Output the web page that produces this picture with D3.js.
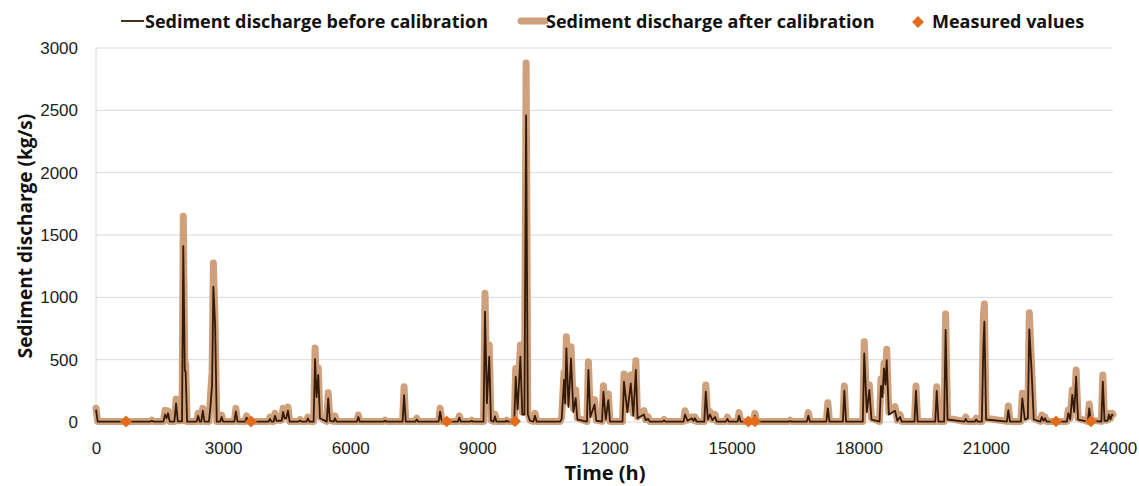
<!DOCTYPE html>
<html lang="en">
<head>
<meta charset="utf-8">
<script src="https://d3js.org/d3.v7.min.js"></script>
<style>
  body { margin: 0; background: #fff; }
  svg { font-family: "Open Sans", sans-serif; }
  .grid line { stroke: #d9d9d9; stroke-width: 1px; }
  .tick text { fill: #222; font-size: 17px; }
  .after { fill: none; stroke: #cfa07c; stroke-width: 7px; stroke-linejoin: round; stroke-linecap: round; }
  .before { fill: none; stroke: #351a07; stroke-width: 1.8px; stroke-linejoin: round; }
  .lbl { font-weight: bold; fill: #111; }
</style>
<title>Sediment discharge</title>
</head>
<body>
<div id="chart"></div>
<script>
// time (h)
var timeH = [0, 40, 1280, 1320, 1360, 1590, 1630, 1665, 1700, 1740, 1850, 1890, 1930, 2030, 2060, 2095, 2115, 2150,
  2375, 2410, 2450, 2485, 2520, 2560, 2665, 2700, 2740, 2770, 2810, 2850, 2930, 2965, 3000, 3265, 3300, 3340,
  3520, 3555, 3590, 4070, 4105, 4140, 4190, 4225, 4260, 4380, 4415, 4450, 4490, 4530, 4570, 4780, 4815, 4850,
  4965, 5000, 5035, 5135, 5170, 5205, 5245, 5285, 5445, 5480, 5520, 5605, 5640, 5675, 6155, 6190, 6225,
  6785, 6820, 6855, 7235, 7270, 7310, 7535, 7570, 7605, 8085, 8120, 8160, 8540, 8575, 8610, 8830, 8865, 8900,
  9145, 9180, 9225, 9280, 9320, 9380, 9415, 9450, 9655, 9690, 9725, 9870, 9905, 9950, 10015, 10060, 10110,
  10150, 10190, 10240, 10320, 10360, 10400, 10955, 10990, 11045, 11070, 11100, 11150, 11210, 11265, 11320,
  11360, 11585, 11620, 11665, 11765, 11805, 11940, 11975, 12030, 12090, 12130, 12425, 12460, 12540, 12620,
  12680, 12740, 12780, 12930, 12970, 13030, 13070, 13370, 13405, 13440, 13865, 13900, 13960, 14060, 14100,
  14135, 14175, 14355, 14390, 14440, 14490, 14545, 14610, 14650, 14865, 14900, 14935, 15140, 15175, 15215,
  15515, 15550, 15590, 16345, 16380, 16415, 16775, 16810, 16850, 17235, 17270, 17310, 17625, 17660, 17700,
  18095, 18130, 18190, 18250, 18300, 18490, 18525, 18560, 18595, 18630, 18660, 18710, 18855, 18910, 18975,
  19015, 19315, 19350, 19390, 19805, 19840, 19880, 20015, 20050, 20095, 20490, 20525, 20560, 20735, 20770,
  20810, 20905, 20940, 20965, 21005, 21495, 21530, 21570, 21825, 21860, 21920, 21990, 22025, 22080, 22130,
  22285, 22320, 22360, 22395, 22435, 22910, 22945, 22990, 23040, 23085, 23130, 23175, 23405, 23440, 23480,
  23725, 23760, 23800, 23870, 23905, 23940, 23980, 24000];

// sediment discharge before calibration (kg/s)
var beforeCal = [100, 3, 3, 10, 3, 3, 60, 30, 70, 3, 3, 150, 5, 5, 1410, 420, 400, 3,
  3, 50, 3, 3, 90, 3, 3, 120, 300, 1085, 790, 3, 3, 40, 3, 3, 85, 3,
  3, 35, 3, 3, 25, 3, 3, 50, 10, 10, 80, 30, 30, 90, 3, 3, 12, 3,
  3, 30, 3, 3, 505, 200, 377, 30, 3, 190, 10, 3, 30, 3, 3, 40, 3,
  3, 10, 3, 3, 216, 3, 3, 20, 3, 3, 83, 3, 3, 35, 3, 3, 10, 3,
  3, 885, 150, 524, 10, 3, 45, 3, 3, 10, 3, 3, 363, 100, 524, 60, 60,
  2460, 60, 10, 3, 50, 3, 3, 25, 337, 150, 591, 120, 510, 80, 192,
  20, 3, 417, 40, 140, 10, 3, 243, 20, 176, 3, 3, 323, 80, 310,
  50, 417, 30, 60, 15, 25, 3, 3, 12, 3, 3, 60, 10, 30, 10,
  30, 3, 3, 243, 20, 60, 15, 40, 3, 3, 25, 3, 3, 50, 3,
  3, 50, 3, 3, 8, 3, 3, 50, 3, 3, 110, 3, 3, 251, 3,
  3, 551, 80, 257, 20, 3, 289, 200, 430, 300, 497, 60, 90, 10, 40,
  3, 3, 251, 3, 3, 249, 3, 3, 738, 20, 3, 25, 3, 3, 20,
  3, 3, 600, 805, 20, 3, 95, 3, 3, 190, 20, 30, 743, 400, 20,
  3, 40, 10, 30, 3, 3, 70, 20, 217, 80, 363, 20, 3, 110, 10,
  3, 323, 10, 10, 60, 20, 60, 50];

// sediment discharge after calibration (kg/s)
var afterCal = [110, 5, 5, 15, 5, 5, 95, 45, 90, 5, 5, 185, 10, 10, 1650, 480, 470, 5,
  5, 70, 5, 5, 110, 5, 5, 200, 400, 1275, 800, 5, 5, 55, 5, 5, 110, 5,
  5, 50, 5, 5, 40, 5, 5, 70, 15, 15, 110, 40, 40, 120, 5, 5, 20, 5,
  5, 40, 5, 5, 593, 240, 433, 40, 5, 235, 15, 5, 50, 5, 5, 56, 5,
  5, 15, 5, 5, 283, 5, 5, 30, 5, 5, 110, 5, 5, 50, 5, 5, 15, 5,
  5, 1032, 200, 617, 15, 5, 62, 5, 5, 15, 5, 5, 430, 130, 617, 80, 80,
  2880, 80, 15, 5, 70, 5, 5, 40, 400, 200, 684, 160, 604, 110, 257,
  30, 5, 484, 60, 180, 15, 5, 291, 30, 225, 5, 5, 385, 100, 377,
  70, 492, 40, 91, 20, 40, 5, 5, 20, 5, 5, 91, 15, 40, 15,
  40, 5, 5, 297, 30, 83, 20, 60, 5, 5, 40, 5, 5, 75, 5,
  5, 70, 5, 5, 15, 5, 5, 75, 5, 5, 155, 5, 5, 289, 5,
  5, 644, 110, 297, 30, 5, 345, 250, 470, 350, 583, 80, 123, 15, 60,
  5, 5, 289, 5, 5, 283, 5, 5, 866, 30, 5, 40, 5, 5, 30,
  5, 5, 845, 946, 30, 5, 128, 5, 5, 230, 30, 40, 877, 444, 30,
  5, 56, 15, 40, 5, 5, 96, 30, 257, 100, 417, 30, 5, 144, 15,
  5, 377, 15, 15, 70, 30, 70, 60];

var measuredTime = [708, 3660, 8275, 9890, 15395, 15550, 22655, 23480];
var measuredVal = [4, 4, 5, 6, 4, 5, 5, 5];

var xTicks = [0, 3000, 6000, 9000, 12000, 15000, 18000, 21000, 24000];
var yTicks = [0, 500, 1000, 1500, 2000, 2500, 3000];

var legendLabels = ["Sediment discharge before calibration", "Sediment discharge after calibration", "Measured values"];

var margin = {top: 48, right: 26, bottom: 64, left: 96},
    width = 1139 - margin.left - margin.right,
    height = 486 - margin.top - margin.bottom;

var svg = d3.select("#chart").append("svg")
    .attr("width", 1139)
    .attr("height", 486);

var g = svg.append("g")
    .attr("transform", "translate(" + margin.left + "," + margin.top + ")");

var x = d3.scaleLinear().domain([0, 24000]).range([0, width]);
var y = d3.scaleLinear().domain([0, 3000]).range([height, 0]);

// gridlines
g.append("g").attr("class", "grid")
  .selectAll("line").data(yTicks).enter().append("line")
    .attr("x1", 0).attr("x2", width)
    .attr("y1", function(d) { return y(d); })
    .attr("y2", function(d) { return y(d); });

g.append("line")
    .attr("x1", 0).attr("x2", 0).attr("y1", 0).attr("y2", height)
    .attr("stroke", "#d9d9d9");

// axes
var yAxis = g.append("g")
    .call(d3.axisLeft(y).tickValues(yTicks).tickSize(0).tickPadding(18).tickFormat(d3.format("d")));
yAxis.select(".domain").remove();

var xAxis = g.append("g")
    .attr("transform", "translate(0," + height + ")")
    .call(d3.axisBottom(x).tickValues(xTicks).tickSize(0).tickPadding(20).tickFormat(d3.format("d")));
xAxis.select(".domain").remove();

var pts = timeH.map(function(t, i) { return {t: t, b: beforeCal[i], a: afterCal[i]}; });

g.append("path").datum(pts).attr("class", "after")
    .attr("d", d3.line().x(function(d) { return x(d.t); }).y(function(d) { return y(d.a); }));

g.append("path").datum(pts).attr("class", "before")
    .attr("d", d3.line().x(function(d) { return x(d.t); }).y(function(d) { return y(d.b); }));

var diamond = d3.symbol().type(d3.symbolDiamond2).size(90);
g.selectAll(".meas").data(measuredTime).enter().append("path")
    .attr("class", "meas")
    .attr("d", diamond)
    .attr("fill", "#e36c1c")
    .attr("transform", function(d, i) { return "translate(" + x(d) + "," + y(measuredVal[i]) + ")"; });

// axis titles
svg.append("text").attr("class", "lbl")
    .attr("x", 605).attr("y", 480)
    .attr("text-anchor", "middle").style("font-size", "20px")
    .text("Time (h)");

svg.append("text").attr("class", "lbl")
    .attr("transform", "translate(32,236) rotate(-90)")
    .attr("text-anchor", "middle").style("font-size", "19px")
    .text("Sediment discharge (kg/s)");

// legend
var leg = svg.append("g").style("font-size", "18px");
leg.append("line").attr("x1", 121).attr("x2", 144).attr("y1", 21).attr("y2", 21)
    .attr("stroke", "#351a07").attr("stroke-width", 1.8);
leg.append("text").attr("class", "lbl").attr("x", 145).attr("y", 28).text(legendLabels[0]);

leg.append("line").attr("x1", 521).attr("x2", 545).attr("y1", 21).attr("y2", 21)
    .attr("stroke", "#cfa07c").attr("stroke-width", 7).attr("stroke-linecap", "round");
leg.append("text").attr("class", "lbl").attr("x", 546).attr("y", 28).text(legendLabels[1]);

leg.append("path").attr("d", diamond).attr("fill", "#e36c1c")
    .attr("transform", "translate(918,22)");
leg.append("text").attr("class", "lbl").attr("x", 932).attr("y", 28).text(legendLabels[2]);
</script>
</body>
</html>
